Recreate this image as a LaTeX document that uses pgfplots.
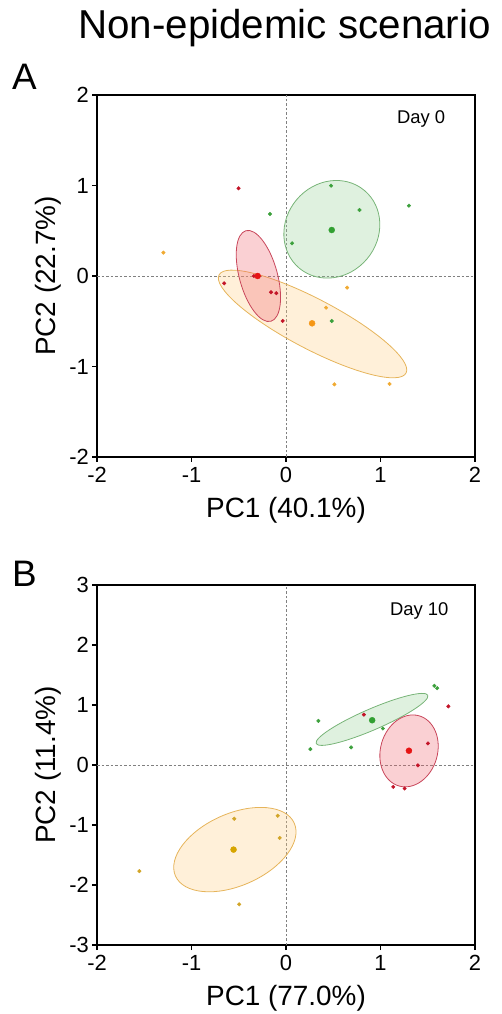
\documentclass[border=0pt]{standalone}
\usepackage{fontspec}
\setmainfont{Liberation Sans}
\usepackage{pgfplots}
\pgfplotsset{compat=1.18}
\definecolor{redline}{RGB}{200,70,90}
\definecolor{redfill}{RGB}{240,100,110}
\definecolor{greenline}{RGB}{120,180,120}
\definecolor{greenfill}{RGB}{150,210,150}
\definecolor{orangeline}{RGB}{230,180,90}
\definecolor{orangefill}{RGB}{255,205,130}
\definecolor{redpt}{RGB}{195,20,40}
\definecolor{redc}{RGB}{230,20,20}
\definecolor{greenpt}{RGB}{60,160,60}
\definecolor{greenc}{RGB}{50,160,50}
\definecolor{orangept}{RGB}{240,170,50}
\definecolor{orangec}{RGB}{245,150,20}
\definecolor{ochrept}{RGB}{210,165,40}
\definecolor{ochrec}{RGB}{215,165,0}
\tikzset{ell/.style={line width=0.8bp, fill opacity=0.3, draw opacity=1}}
\pgfplotsset{pca/.style={
  scale only axis, width=378bp,
  xmin=-2, xmax=2, xtick={-2,-1,0,1,2},
  axis line style={line width=1.3bp},
  every tick/.style={black, line width=1.2bp},
  tick align=outside, major tick length=5bp,
  xtick pos=bottom, ytick pos=left,
  ticklabel style={font=\fontsize{22}{24}\selectfont},
  /pgf/number format/assume math mode=true,
  xticklabel style={inner sep=0pt, yshift=-5bp},
  yticklabel style={inner sep=0pt, xshift=-3bp},
  label style={font=\fontsize{28}{30}\selectfont},
  ylabel style={at={(axis description cs:-0.1085,0.5)}, anchor=base},
  small/.style={only marks, mark=*, mark size=1.8bp},
  big/.style={only marks, mark=*, mark size=3bp},
  refline/.style={gray, line width=0.9bp, dash pattern=on 2.5bp off 2bp},
}}
\begin{document}
\begin{tikzpicture}[x=1bp,y=1bp]
\useasboundingbox (0,0) rectangle (502,1014);
\node[anchor=base, font=\fontsize{40.5}{44}\selectfont] at (284.5,975) {Non-epidemic scenario};
\node[anchor=base west, inner sep=0pt, font=\fontsize{37}{40}\selectfont] at (12,924) {A};
\node[anchor=base west, inner sep=0pt, font=\fontsize{37}{40}\selectfont] at (12,427) {B};

% Panel A
\begin{axis}[pca, at={(97bp,557bp)}, anchor=south west, height=362bp,
  ymin=-2, ymax=2, ytick={-2,-1,0,1,2},
  xlabel={PC1 (40.1\%)}, ylabel={PC2 (22.7\%)},
  xlabel style={at={(axis description cs:0.5,-0.1685)}, anchor=base}]
\addplot[refline] coordinates {(0,-2) (0,2)};
\addplot[refline] coordinates {(-2,0) (2,0)};
\draw[ell, draw=orangeline, fill=orangefill] (axis cs:0.281,-0.530) ellipse[x radius=105.6bp, y radius=25bp, rotate=-27.7];
\draw[ell, draw=greenline, fill=greenfill] (axis cs:0.485,0.516) ellipse[x radius=50.7bp, y radius=46bp, rotate=50];
\draw[ell, draw=redline, fill=redfill] (axis cs:-0.292,0.0) ellipse[x radius=47bp, y radius=19bp, rotate=105.4];
\addplot[small, color=orangept] coordinates {(-1.297,0.258) (0.647,-0.129) (0.424,-0.35) (0.512,-1.197) (1.096,-1.193)};
\addplot[small, color=greenpt] coordinates {(0.477,0.998) (0.778,0.729) (1.301,0.777) (-0.170,0.685) (0.064,0.361) (0.484,-0.497)};
\addplot[small, color=redpt] coordinates {(-0.502,0.969) (-0.654,-0.081) (-0.159,-0.18) (-0.103,-0.19) (-0.035,-0.497) (-0.34,0.0)};
\addplot[big, color=orangec] coordinates {(0.276,-0.523)};
\addplot[big, color=greenc] coordinates {(0.484,0.508)};
\addplot[big, color=redc] coordinates {(-0.30,0.0)};
\node[anchor=base, font=\fontsize{18.5}{20}\selectfont] at (axis cs:1.43,1.69) {Day 0};
\end{axis}

% Panel B
\begin{axis}[pca, at={(97bp,69bp)}, anchor=south west, height=360bp,
  ymin=-3, ymax=3, ytick={-3,-2,-1,0,1,2,3},
  xlabel={PC1 (77.0\%)}, ylabel={PC2 (11.4\%)},
  xlabel style={at={(axis description cs:0.5,-0.1694)}, anchor=base}]
\addplot[refline] coordinates {(0,-3) (0,3)};
\addplot[refline] coordinates {(-2,0) (2,0)};
\draw[ell, draw=orangeline, fill=orangefill] (axis cs:-0.541,-1.410) ellipse[x radius=65bp, y radius=36bp, rotate=24];
\draw[ell, draw=greenline, fill=greenfill] (axis cs:0.910,0.760) ellipse[x radius=60.8bp, y radius=10.5bp, rotate=23.4];
\draw[ell, draw=redline, fill=redfill] (axis cs:1.302,0.235) ellipse[x radius=36.5bp, y radius=28.5bp, rotate=74];
\addplot[small, color=ochrept] coordinates {(-0.548,-0.896) (-0.088,-0.846) (-0.067,-1.216) (-0.495,-2.322) (-1.552,-1.769)};
\addplot[small, color=greenpt] coordinates {(1.57,1.32) (1.60,1.28) (0.343,0.735) (1.025,0.608) (0.258,0.265) (0.689,0.293)};
\addplot[small, color=redpt] coordinates {(1.718,0.978) (0.824,0.840) (1.502,0.360) (1.396,-0.006) (1.135,-0.365) (1.255,-0.392)};
\addplot[big, color=ochrec] coordinates {(-0.555,-1.410)};
\addplot[big, color=greenc] coordinates {(0.912,0.746)};
\addplot[big, color=redc] coordinates {(1.301,0.238)};
\node[anchor=base, font=\fontsize{18.5}{20}\selectfont] at (axis cs:1.41,2.49) {Day 10};
\end{axis}
\end{tikzpicture}
\end{document}
